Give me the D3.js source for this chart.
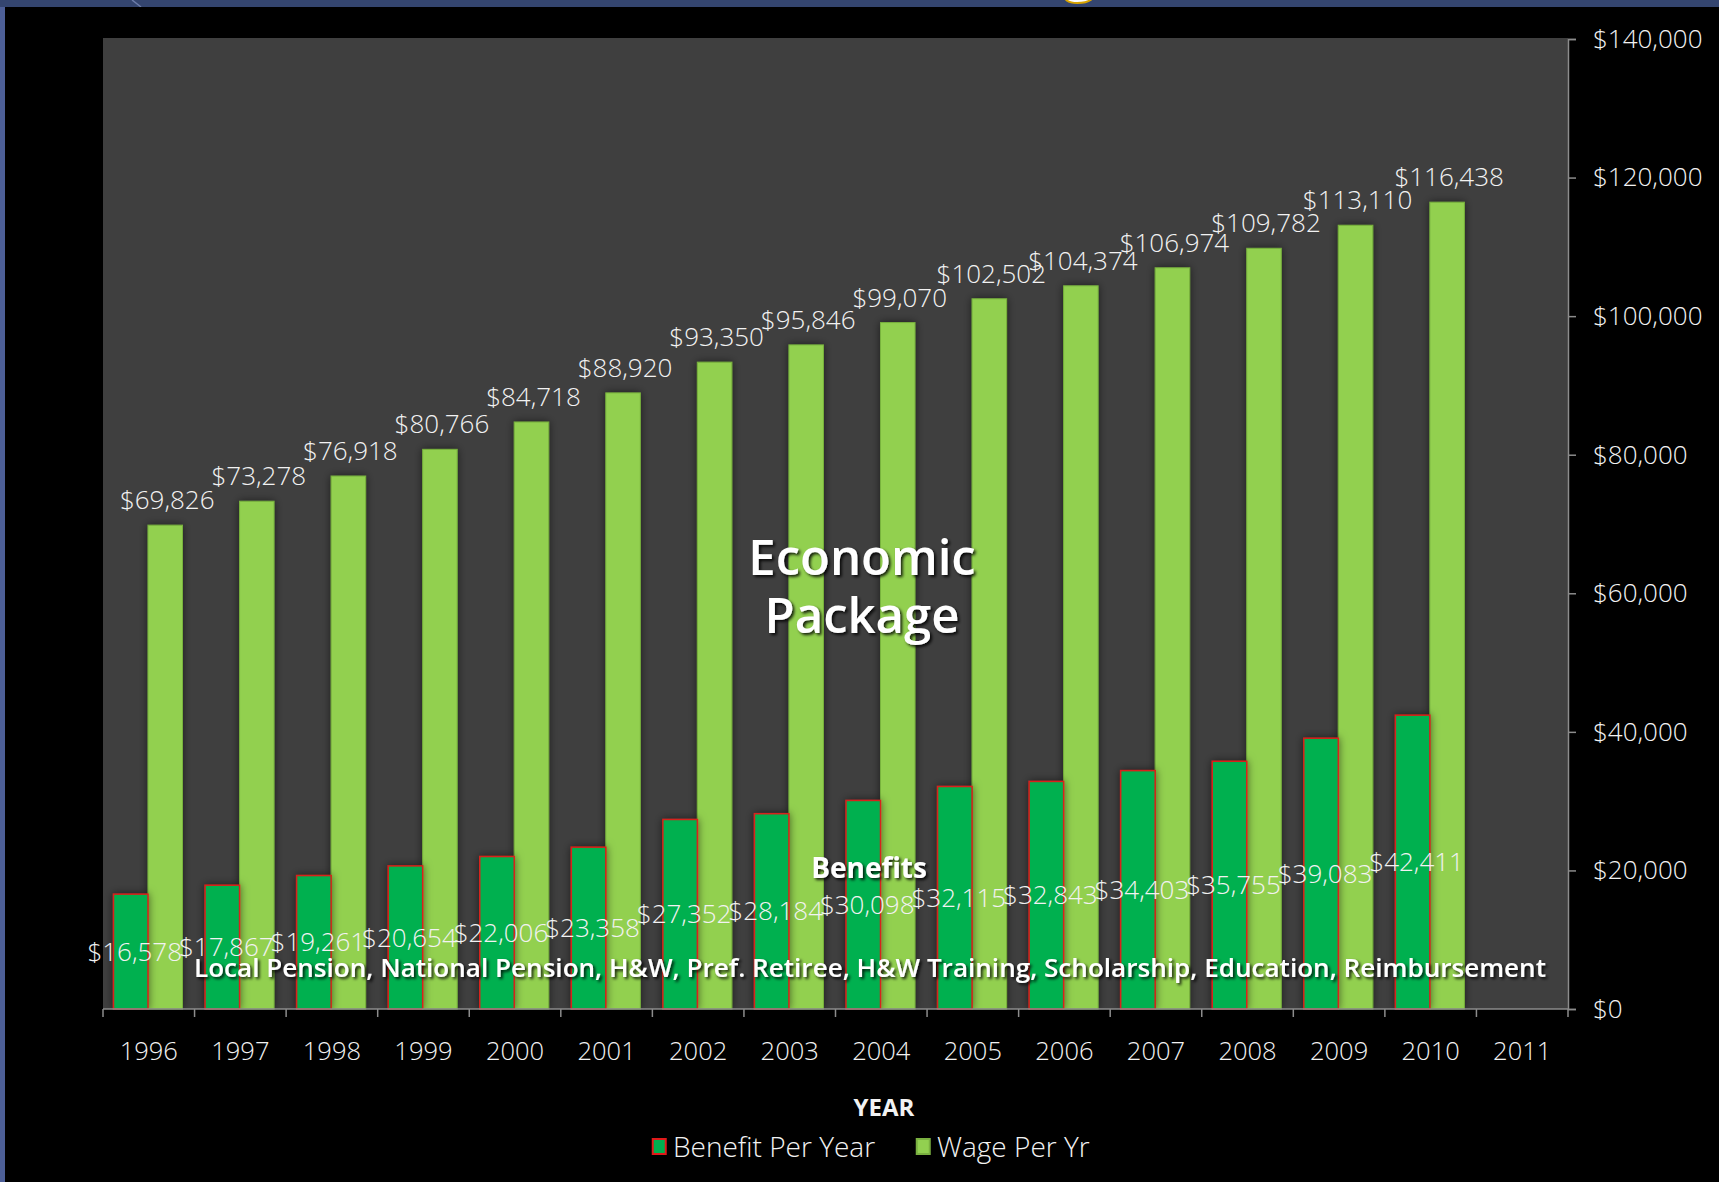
<!DOCTYPE html>
<html>
<head>
<meta charset="utf-8">
<script src="https://cdn.jsdelivr.net/npm/d3@7"></script>
<style>
  html, body { margin: 0; padding: 0; background: #000; overflow: hidden; }
  svg { display: block; }
</style>
</head>
<body>
<svg id="chart" width="1719" height="1182"></svg>
<script>
// ---- data ----
const years = ["1996","1997","1998","1999","2000","2001","2002","2003","2004","2005","2006","2007","2008","2009","2010","2011"];
const seriesNames = ["Benefit Per Year", "Wage Per Yr"];
const benefitPerYear = [16578, 17867, 19261, 20654, 22006, 23358, 27352, 28184, 30098, 32115, 32843, 34403, 35755, 39083, 42411, null];
const wagePerYr = [69826, 73278, 76918, 80766, 84718, 88920, 93350, 95846, 99070, 102502, 104374, 106974, 109782, 113110, 116438, null];
const yTicks = [0, 20000, 40000, 60000, 80000, 100000, 120000, 140000];
const xAxisTitle = "YEAR";
const centerTitle = ["Economic", "Package"];
const benefitsTitle = "Benefits";
const benefitsDetail = "Local Pension, National Pension, H&W, Pref. Retiree, H&W Training, Scholarship, Education, Reimbursement";

const W = 1719, H = 1182;
const plot = { left: 103, right: 1568, top: 38, bottom: 1009 };
const FONT = "'Open Sans', 'DejaVu Sans', sans-serif";
const TXT = "#f2f2f2";

const svg = d3.select("#chart");
const defs = svg.append("defs");
const sh = defs.append("filter").attr("id", "barShadow").attr("x", "-40%").attr("y", "-10%").attr("width", "180%").attr("height", "130%");
sh.append("feDropShadow").attr("dx", 0).attr("dy", 0).attr("stdDeviation", 4).attr("flood-color", "#000").attr("flood-opacity", 0.55);
const ts = defs.append("filter").attr("id", "textShadow").attr("x", "-5%").attr("y", "-30%").attr("width", "110%").attr("height", "160%");
ts.append("feDropShadow").attr("dx", 2).attr("dy", 2).attr("stdDeviation", 1.5).attr("flood-color", "#000").attr("flood-opacity", 0.85);

// slide background pieces
svg.append("rect").attr("x", 0).attr("y", 0).attr("width", W).attr("height", H).attr("fill", "#34456f");
svg.append("text").attr("x", 1080).attr("y", -12).attr("text-anchor", "middle")
  .attr("font-family", FONT).attr("font-weight", 700).attr("font-size", 60)
  .attr("fill", "#ffffff").attr("stroke", "#d9a400").attr("stroke-width", 2).text("g");
svg.append("line").attr("x1", 132).attr("y1", 0).attr("x2", 141).attr("y2", 7).attr("stroke", "#6c7ca8").attr("stroke-width", 1.5);
svg.append("rect").attr("x", 0).attr("y", 7).attr("width", 5).attr("height", H - 7).attr("fill", "#4d5f97");
svg.append("rect").attr("x", 5).attr("y", 7).attr("width", W - 5).attr("height", H - 7).attr("fill", "#000");

// plot area
svg.append("rect").attr("x", plot.left).attr("y", plot.top)
  .attr("width", plot.right - plot.left).attr("height", plot.bottom - plot.top).attr("fill", "#3f3f3f");

// scales
const x = d3.scaleBand().domain(years).range([plot.left, plot.right]).paddingInner(0).paddingOuter(0);
const xs = d3.scaleBand().domain(seriesNames).range([10.5, 79.5]);
const y = d3.scaleLinear().domain([0, 140000]).range([plot.bottom, 39]);

const rows = years.map((yr, i) => ({ year: yr, benefit: benefitPerYear[i], wage: wagePerYr[i] }));

// bars
const gBars = svg.append("g");
gBars.selectAll("rect.wage").data(rows.filter(d => d.wage != null)).join("rect")
  .attr("class", "wage")
  .attr("x", d => x(d.year) + xs("Wage Per Yr"))
  .attr("width", xs.bandwidth())
  .attr("y", d => y(d.wage))
  .attr("height", d => y(0) - y(d.wage))
  .attr("fill", "#92d050").attr("stroke", "#78b33c").attr("stroke-width", 1)
  .attr("filter", "url(#barShadow)");
gBars.selectAll("rect.benefit").data(rows.filter(d => d.benefit != null)).join("rect")
  .attr("class", "benefit")
  .attr("x", d => x(d.year) + xs("Benefit Per Year"))
  .attr("width", xs.bandwidth())
  .attr("y", d => y(d.benefit))
  .attr("height", d => y(0) - y(d.benefit))
  .attr("fill", "#00b050").attr("stroke", "#d8201a").attr("stroke-width", 1.5)
  .attr("filter", "url(#barShadow)");

// axes
const yAxis = d3.axisRight(y).tickValues(yTicks).tickSize(8).tickPadding(17)
  .tickFormat(d => "$" + d3.format(",")(d));
const gy = svg.append("g").attr("transform", `translate(${plot.right},0)`).call(yAxis);
gy.select(".domain").attr("stroke", "#8c8c8c").attr("stroke-width", 1.5);
gy.selectAll(".tick line").attr("stroke", "#8c8c8c").attr("stroke-width", 1.5);
gy.selectAll(".tick text").attr("fill", TXT).attr("font-family", FONT).attr("font-weight", 300).attr("font-size", 26);

const xAxis = d3.axisBottom(x).tickSize(0).tickPadding(33);
const gx = svg.append("g").attr("transform", `translate(0,${plot.bottom})`).call(xAxis);
gx.select(".domain").remove();
gx.selectAll(".tick text").attr("fill", TXT).attr("font-family", FONT).attr("font-weight", 300).attr("font-size", 25.5);
svg.append("line").attr("x1", plot.left).attr("x2", plot.right).attr("y1", plot.bottom).attr("y2", plot.bottom)
  .attr("stroke", "#8c8c8c").attr("stroke-width", 1.5);
const boundaries = years.map(d => x(d)).concat([x(years[years.length - 1]) + x.bandwidth()]);
svg.append("g").selectAll("line").data(boundaries).join("line")
  .attr("x1", d => d).attr("x2", d => d).attr("y1", plot.bottom).attr("y2", plot.bottom + 8)
  .attr("stroke", "#8c8c8c").attr("stroke-width", 1.5);

// x axis title
svg.append("text").attr("x", 884).attr("y", 1116).attr("text-anchor", "middle")
  .attr("font-family", FONT).attr("font-weight", 700).attr("font-size", 24).attr("fill", TXT).text(xAxisTitle);

// data labels
const gLab = svg.append("g").attr("font-family", FONT).attr("font-weight", 300).attr("font-size", 26).attr("fill", TXT).attr("text-anchor", "middle");
gLab.selectAll("text.wl").data(rows.filter(d => d.wage != null)).join("text")
  .attr("class", "wl")
  .attr("x", d => x(d.year) + xs("Wage Per Yr") + xs.bandwidth() / 2 + 2)
  .attr("y", d => y(d.wage) - 16)
  .text(d => "$" + d3.format(",")(d.wage));
gLab.selectAll("text.bl").data(rows.filter(d => d.benefit != null)).join("text")
  .attr("class", "bl")
  .attr("x", d => x(d.year) + xs("Benefit Per Year") + xs.bandwidth() / 2 + 4)
  .attr("y", d => y(d.benefit / 2))
  .attr("dy", "0.35em")
  .text(d => "$" + d3.format(",")(d.benefit));

// annotations
const gAnn = svg.append("g").attr("font-family", FONT).attr("fill", "#ffffff").attr("text-anchor", "middle").attr("filter", "url(#textShadow)");
gAnn.selectAll("text.ct").data(centerTitle).join("text")
  .attr("class", "ct")
  .attr("x", 862).attr("y", (d, i) => 575 + i * 58)
  .attr("font-size", 49).attr("font-weight", 600).text(d => d);
gAnn.append("text").attr("x", 869).attr("y", 878).attr("font-size", 28).attr("font-weight", 700).text(benefitsTitle);
gAnn.append("text").attr("x", 870).attr("y", 977).attr("font-size", 25).attr("font-weight", 600)
  .attr("textLength", 1352).attr("lengthAdjust", "spacingAndGlyphs").text(benefitsDetail);

// legend
const legendItems = [
  { name: seriesNames[0], x: 652, fill: "#00b050", stroke: "#e01a1a" },
  { name: seriesNames[1], x: 916, fill: "#92d050", stroke: "#7ab040" }
];
const gLeg = svg.append("g");
const li = gLeg.selectAll("g").data(legendItems).join("g").attr("transform", d => `translate(${d.x},1139)`);
li.append("rect").attr("x", 0.75).attr("y", 0).attr("width", 13).attr("height", 15)
  .attr("fill", d => d.fill).attr("stroke", d => d.stroke).attr("stroke-width", 2);
li.append("text").attr("x", 21).attr("y", 18).attr("font-family", FONT).attr("font-weight", 300)
  .attr("font-size", 28).attr("fill", TXT).text(d => d.name);
</script>
</body>
</html>
